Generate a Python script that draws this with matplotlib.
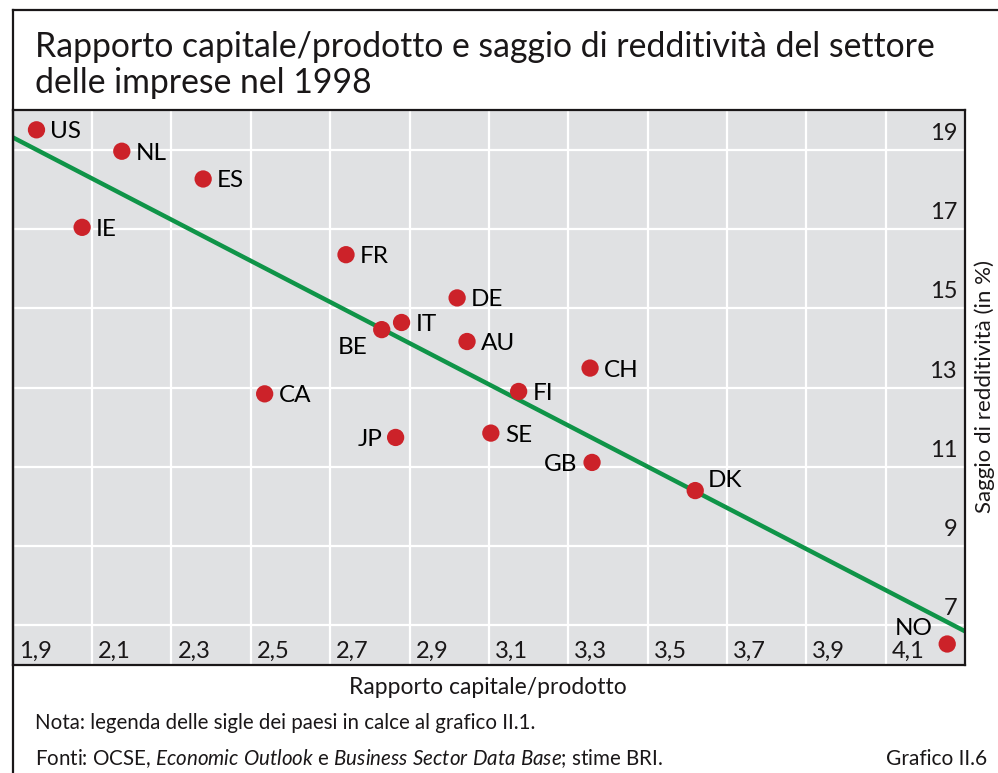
import matplotlib
matplotlib.use("Agg")
import matplotlib.pyplot as plt
from matplotlib.lines import Line2D

plt.rcParams['font.family'] = ['Lato', 'DejaVu Sans']
plt.rcParams['mathtext.fontset'] = 'custom'
plt.rcParams['mathtext.rm'] = 'Lato'
plt.rcParams['mathtext.it'] = 'Lato:italic'

### data
countries = ['US', 'NL', 'ES', 'IE', 'FR', 'DE', 'IT', 'BE', 'AU',
             'CH', 'CA', 'FI', 'JP', 'SE', 'GB', 'DK', 'NO']
cap_output = [1.96, 2.175, 2.38, 2.075, 2.74, 3.02, 2.88, 2.83, 3.045,
              3.355, 2.535, 3.175, 2.865, 3.105, 3.36, 3.62, 4.255]
profit_rate = [19.5, 18.96, 18.26, 17.04, 16.35, 15.26, 14.64, 14.46, 14.16,
               13.49, 12.84, 12.9, 11.74, 11.85, 11.11, 10.4, 6.53]

# regression line end points
fit_x = [1.9, 4.3]
fit_y = [19.31, 6.85]

x_ticks = [1.9, 2.1, 2.3, 2.5, 2.7, 2.9, 3.1, 3.3, 3.5, 3.7, 3.9, 4.1]
x_labels = ['1,9', '2,1', '2,3', '2,5', '2,7', '2,9', '3,1', '3,3', '3,5', '3,7', '3,9', '4,1']
y_ticks = [7, 9, 11, 13, 15, 17, 19]
y_labels = ['7', '9', '11', '13', '15', '17', '19']

# label offsets in pixels (default: right of the dot)
label_pos = {
    'BE': (-14, -16, 'right'),
    'JP': (-13, 0, 'right'),
    'GB': (-15, 0, 'right'),
    'DK': (13, 12, 'left'),
    'NO': (-15, 18, 'right'),
}

RED = '#cc2229'
GREEN = '#0f9448'
BG = '#e0e1e3'
INK = '#1a1718'

fig = plt.figure(figsize=(9.98, 7.73), dpi=100)

# outer frame (left + top)
fig.add_artist(Line2D([0.0127, 0.0127], [0, 0.987], transform=fig.transFigure, color=INK, lw=1.6))
fig.add_artist(Line2D([0.0127, 1.0], [0.987, 0.987], transform=fig.transFigure, color=INK, lw=1.6))

ax = fig.add_axes([0.0127, 0.1397, 0.9543, 0.718])
ax.set_facecolor(BG)
ax.set_xlim(1.9, 4.3)
ax.set_ylim(6, 20)
ax.set_xticks(x_ticks)
ax.set_yticks(y_ticks)
ax.tick_params(length=0, labelbottom=False, labelleft=False)
ax.grid(True, color='white', lw=1.6)
ax.set_axisbelow(True)
for s in ax.spines.values():
    s.set_color(INK)
    s.set_linewidth(1.6)

ax.plot(fit_x, fit_y, color=GREEN, lw=3.2, zorder=2, solid_capstyle='butt')
ax.scatter(cap_output, profit_rate, s=155, color=RED, edgecolors='none', zorder=3)

for c, x, y in zip(countries, cap_output, profit_rate):
    dx, dy, ha = label_pos.get(c, (14, 0, 'left'))
    ax.annotate(c, (x, y), xytext=(dx, dy), textcoords='offset pixels',
                ha=ha, va='center_baseline', fontsize=17.5, color='black', zorder=4)

# tick labels sit inside the plot, next to the gridlines
for t, lab in zip(x_ticks, x_labels):
    ax.annotate(lab, (t, 0), xycoords=ax.get_xaxis_transform(), xytext=(6, 7),
                textcoords='offset pixels', ha='left', va='baseline', fontsize=17, color=INK)
for t, lab in zip(y_ticks, y_labels):
    ax.annotate(lab, (1, t), xycoords=ax.get_yaxis_transform(), xytext=(-8, 10),
                textcoords='offset pixels', ha='right', va='baseline', fontsize=17, color=INK)

fig.text(0.035, 0.9263, 'Rapporto capitale/prodotto e saggio di redditività del settore',
         fontsize=24.3, va='baseline', color=INK)
fig.text(0.035, 0.880, 'delle imprese nel 1998', fontsize=24.3, va='baseline', color=INK)

fig.text(0.489, 0.102, 'Rapporto capitale/prodotto', fontsize=16.5, ha='center', va='baseline', color=INK)
fig.text(0.987, 0.4994, 'Saggio di redditività (in %)', fontsize=16, rotation=90,
         ha='center', va='center', color=INK)

fig.text(0.035, 0.0569, 'Nota: legenda delle sigle dei paesi in calce al grafico II.1.',
         fontsize=14.8, va='baseline', color=INK)
fig.text(0.035, 0.0103,
         r'Fonti: OCSE, $\mathit{Economic\ Outlook}$ e $\mathit{Business\ Sector\ Data\ Base}$; stime BRI.',
         fontsize=14.8, va='baseline', color=INK)
fig.text(0.989, 0.0103, 'Grafico II.6', fontsize=15, ha='right', va='baseline', color=INK)

fig.savefig('out.png', dpi=100)
